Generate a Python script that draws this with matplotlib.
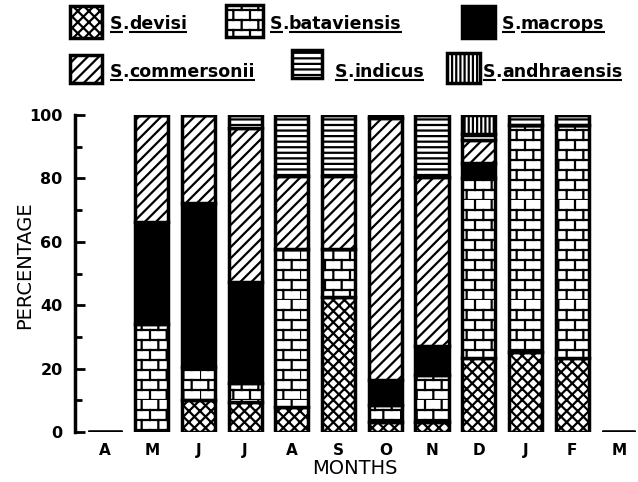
import warnings
warnings.filterwarnings('ignore')
import numpy as np
import matplotlib
matplotlib.use('Agg')
import matplotlib.pyplot as plt
from matplotlib import hatch as mhatch
from matplotlib.path import Path
from matplotlib.patches import Rectangle

# ---------------- data ----------------
months = ['A', 'M', 'J', 'J', 'A', 'S', 'O', 'N', 'D', 'J', 'F', 'M']
species = ['S.devisi', 'S.bataviensis', 'S.macrops',
           'S.commersonii', 'S.indicus', 'S.andhraensis']
devisi      = [0, 0.0, 10.0, 9.5, 8.0, 42.7, 3.0, 3.0, 23.2, 25.3, 23.5, 0]
bataviensis = [0, 34.1, 10.6, 6.0, 49.6, 14.9, 5.5, 15.0, 56.8, 71.5, 73.3, 0]
macrops     = [0, 32.2, 51.5, 31.9, 0.0, 0.0, 8.0, 9.0, 5.0, 0.0, 0.0, 0]
commersonii = [0, 33.7, 27.9, 48.4, 23.2, 23.2, 82.5, 53.5, 7.0, 0.0, 0.0, 0]
indicus     = [0, 0.0, 0.0, 4.2, 19.2, 19.2, 1.0, 19.5, 2.0, 3.2, 3.2, 0]
andhraensis = [0, 0.0, 0.0, 0.0, 0.0, 0.0, 0.0, 0.0, 6.0, 0.0, 0.0, 0]
yticks = [0, 20, 40, 60, 80, 100]

# ---------------- custom brick hatch ----------------
class BrickHatch(mhatch.HatchPatternBase):
    def __init__(self, hatch, density):
        on = hatch.count('b') > 0
        self.rows = 10 if on else 0
        self.cols = 6
        self.num_vertices = (self.rows * 2 + self.rows * self.cols * 2) if on else 0

    def set_vertices_and_codes(self, vertices, codes):
        v = []
        for r in range(self.rows):
            y0 = r / self.rows
            v.append((0.0, y0)); v.append((1.0, y0))
        for r in range(self.rows):
            y0 = r / self.rows
            y1 = (r + 1) / self.rows
            off = 0.5 if r % 2 else 0.0
            for k in range(self.cols):
                x = (k + off) / self.cols
                v.append((x, y0)); v.append((x, y1))
        vertices[:] = np.array(v)
        codes[0::2] = Path.MOVETO
        codes[1::2] = Path.LINETO

mhatch._hatch_types.append(BrickHatch)
mhatch._validate_hatch_pattern = lambda h: None

plt.rcParams['hatch.linewidth'] = 1.6
plt.rcParams['font.family'] = ['DejaVu Sans']

styles = {
    'S.devisi':      dict(facecolor='white', hatch='xxx'),
    'S.bataviensis': dict(facecolor='white', hatch='b'),
    'S.macrops':     dict(facecolor='black', hatch=None),
    'S.commersonii': dict(facecolor='white', hatch='///'),
    'S.indicus':     dict(facecolor='white', hatch='---'),
    'S.andhraensis': dict(facecolor='white', hatch='||||'),
}
series = [devisi, bataviensis, macrops, commersonii, indicus, andhraensis]

W, H = 638, 482
fig = plt.figure(figsize=(W / 100, H / 100), dpi=100)
fig.patch.set_facecolor('white')

ax = fig.add_axes([75 / W, 50 / H, (W - 75) / W, 317 / H])
x = np.arange(len(months))
bottom = np.zeros(len(months))
for name, vals in zip(species, series):
    vals = np.array(vals, dtype=float)
    ax.bar(x, vals, width=0.71, bottom=bottom, edgecolor='black',
           linewidth=2.5, zorder=3, **styles[name])
    bottom += vals

ax.set_xlim(-0.642, 11.41)
ax.set_ylim(0, 100)
for s in ['top', 'right', 'bottom']:
    ax.spines[s].set_visible(False)
ax.spines['left'].set_linewidth(2.5)
ax.set_yticks(yticks)
ax.set_yticklabels([str(t) for t in yticks], fontsize=11.5, fontweight='bold')
ax.set_yticks(np.arange(10, 100, 20), minor=True)
ax.tick_params(axis='y', which='major', direction='in', length=7, width=2, pad=9)
ax.tick_params(axis='y', which='minor', direction='in', length=5, width=2)
ax.set_xticks(x)
ax.set_xticklabels(months, fontsize=11, fontweight='bold')
ax.tick_params(axis='x', length=0, pad=8)
ax.patch.set_visible(False)

# ---------------- legend & labels in pixel coordinates ----------------
lax = fig.add_axes([0, 0, 1, 1], zorder=-1)
lax.set_xlim(0, W)
lax.set_ylim(H, 0)
lax.axis('off')

lax.text(25, 265, 'PERCENTAGE', rotation=90, ha='center', va='center',
         fontsize=14)
lax.text(355, 469, 'MONTHS', ha='center', va='center', fontsize=14)

legend_items = [
    ('S.devisi',      70, 6, 32, 32, 110, 24),
    ('S.bataviensis', 226, 5, 37, 32, 270, 24),
    ('S.macrops',     462, 6, 33, 32, 502, 24),
    ('S.commersonii', 70, 55, 32, 28, 110, 72),
    ('S.indicus',     292, 50, 30, 28, 335, 72),
    ('S.andhraensis', 447, 53, 33, 30, 483, 72),
]
fig.canvas.draw()
renderer = fig.canvas.get_renderer()
inv = lax.transData.inverted()
fs = 12.5
for name, bx, by, bw, bh, tx, ty in legend_items:
    lax.add_patch(Rectangle((bx, by), bw, bh, edgecolor='black', linewidth=2.5,
                            **styles[name]))
    tS = lax.text(tx, ty, 'S', fontsize=fs, fontweight='bold', va='center', ha='left')
    bbS = tS.get_window_extent(renderer)
    xd = inv.transform((bbS.x1, bbS.y0))[0]
    tD = lax.text(xd, ty, '.', fontsize=fs, fontweight='bold', va='center', ha='left')
    bbD = tD.get_window_extent(renderer)
    xn = inv.transform((bbD.x1, bbD.y0))[0]
    tN = lax.text(xn, ty, name[2:], fontsize=fs, fontweight='bold', va='center', ha='left')
    bbN = tN.get_window_extent(renderer)
    for bb in (bbS, bbN):
        (x0, y0) = inv.transform((bb.x0, bb.y0))
        (x1, _) = inv.transform((bb.x1, bb.y0))
        lax.plot([x0, x1], [y0 - 1, y0 - 1], color='black', lw=1.5,
                 solid_capstyle='butt')

fig.savefig('out.png', dpi=100, facecolor='white')
